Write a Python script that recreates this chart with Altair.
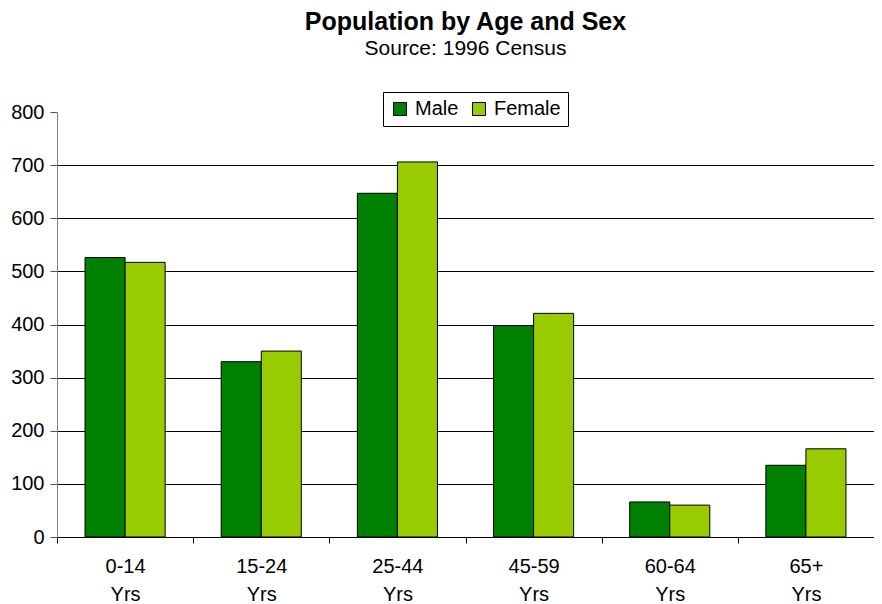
import altair as alt
import pandas as pd

ages = ["0-14 Yrs", "15-24 Yrs", "25-44 Yrs", "45-59 Yrs", "60-64 Yrs", "65+ Yrs"]
male = [526, 330, 647, 398, 66, 135]
female = [517, 350, 706, 421, 60, 166]
series = ["Male", "Female"]
colors = ["#008000", "#99CC00"]
y_ticks = [0, 100, 200, 300, 400, 500, 600, 700, 800]

rows = []
for a, m, f in zip(ages, male, female):
    rows.append({"age": a, "sex": "Male", "value": m})
    rows.append({"age": a, "sex": "Female", "value": f})
df = pd.DataFrame(rows)

FONT = "Liberation Sans"

chart = alt.Chart(df).mark_bar(stroke="black", strokeWidth=1).encode(
    x=alt.X("age:N", sort=ages, title=None,
            scale=alt.Scale(paddingInner=0, paddingOuter=0),
            axis=alt.Axis(labelAngle=0, labelExpr="split(datum.label, ' ')",
                          labelLineHeight=28, labelPadding=13, tickBand="extent",
                          tickSize=6, tickColor="black", domainColor="black",
                          labelFontSize=20, labelColor="black", labelFont=FONT,
                          labelBaseline="top")),
    xOffset=alt.XOffset("sex:N", sort=series,
                        scale=alt.Scale(domain=series, paddingInner=0, paddingOuter=0.7)),
    y=alt.Y("value:Q", title=None,
            scale=alt.Scale(domain=[0, 800], nice=False),
            axis=alt.Axis(values=y_ticks, grid=True,
                          gridColor={"condition": {"test": "datum.value === 800", "value": "transparent"}, "value": "black"},
                          gridWidth=1, tickSize=7, tickColor="#555555", domainColor="#808080",
                          labelFontSize=20, labelColor="black", labelFont=FONT, labelPadding=6)),
    color=alt.Color("sex:N", sort=series, scale=alt.Scale(domain=series, range=colors),
                    legend=alt.Legend(title=None, orient="none", legendX=326, legendY=-20,
                                      direction="horizontal", columns=2,
                                      symbolType="square", symbolSize=169, symbolStrokeColor="black",
                                      symbolStrokeWidth=1, labelFontSize=20, labelFont=FONT,
                                      labelColor="black", strokeColor="black", fillColor="white",
                                      padding=7, columnPadding=10, labelOffset=5)),
).properties(
    width=817, height=425,
    title=alt.TitleParams(text="Population by Age and Sex", subtitle="Source: 1996 Census",
                          font=FONT, fontSize=25, fontWeight="bold", color="black",
                          subtitleFont=FONT, subtitleFontSize=21, subtitleColor="black",
                          subtitlePadding=3, offset=33, anchor="middle"),
    autosize=alt.AutoSizeParams(type="none"),
    padding={"left": 49, "top": 104, "right": 0, "bottom": 66},
).configure_view(stroke=None)

chart.save("out.html", embed_options={"renderer": "svg", "actions": False})
